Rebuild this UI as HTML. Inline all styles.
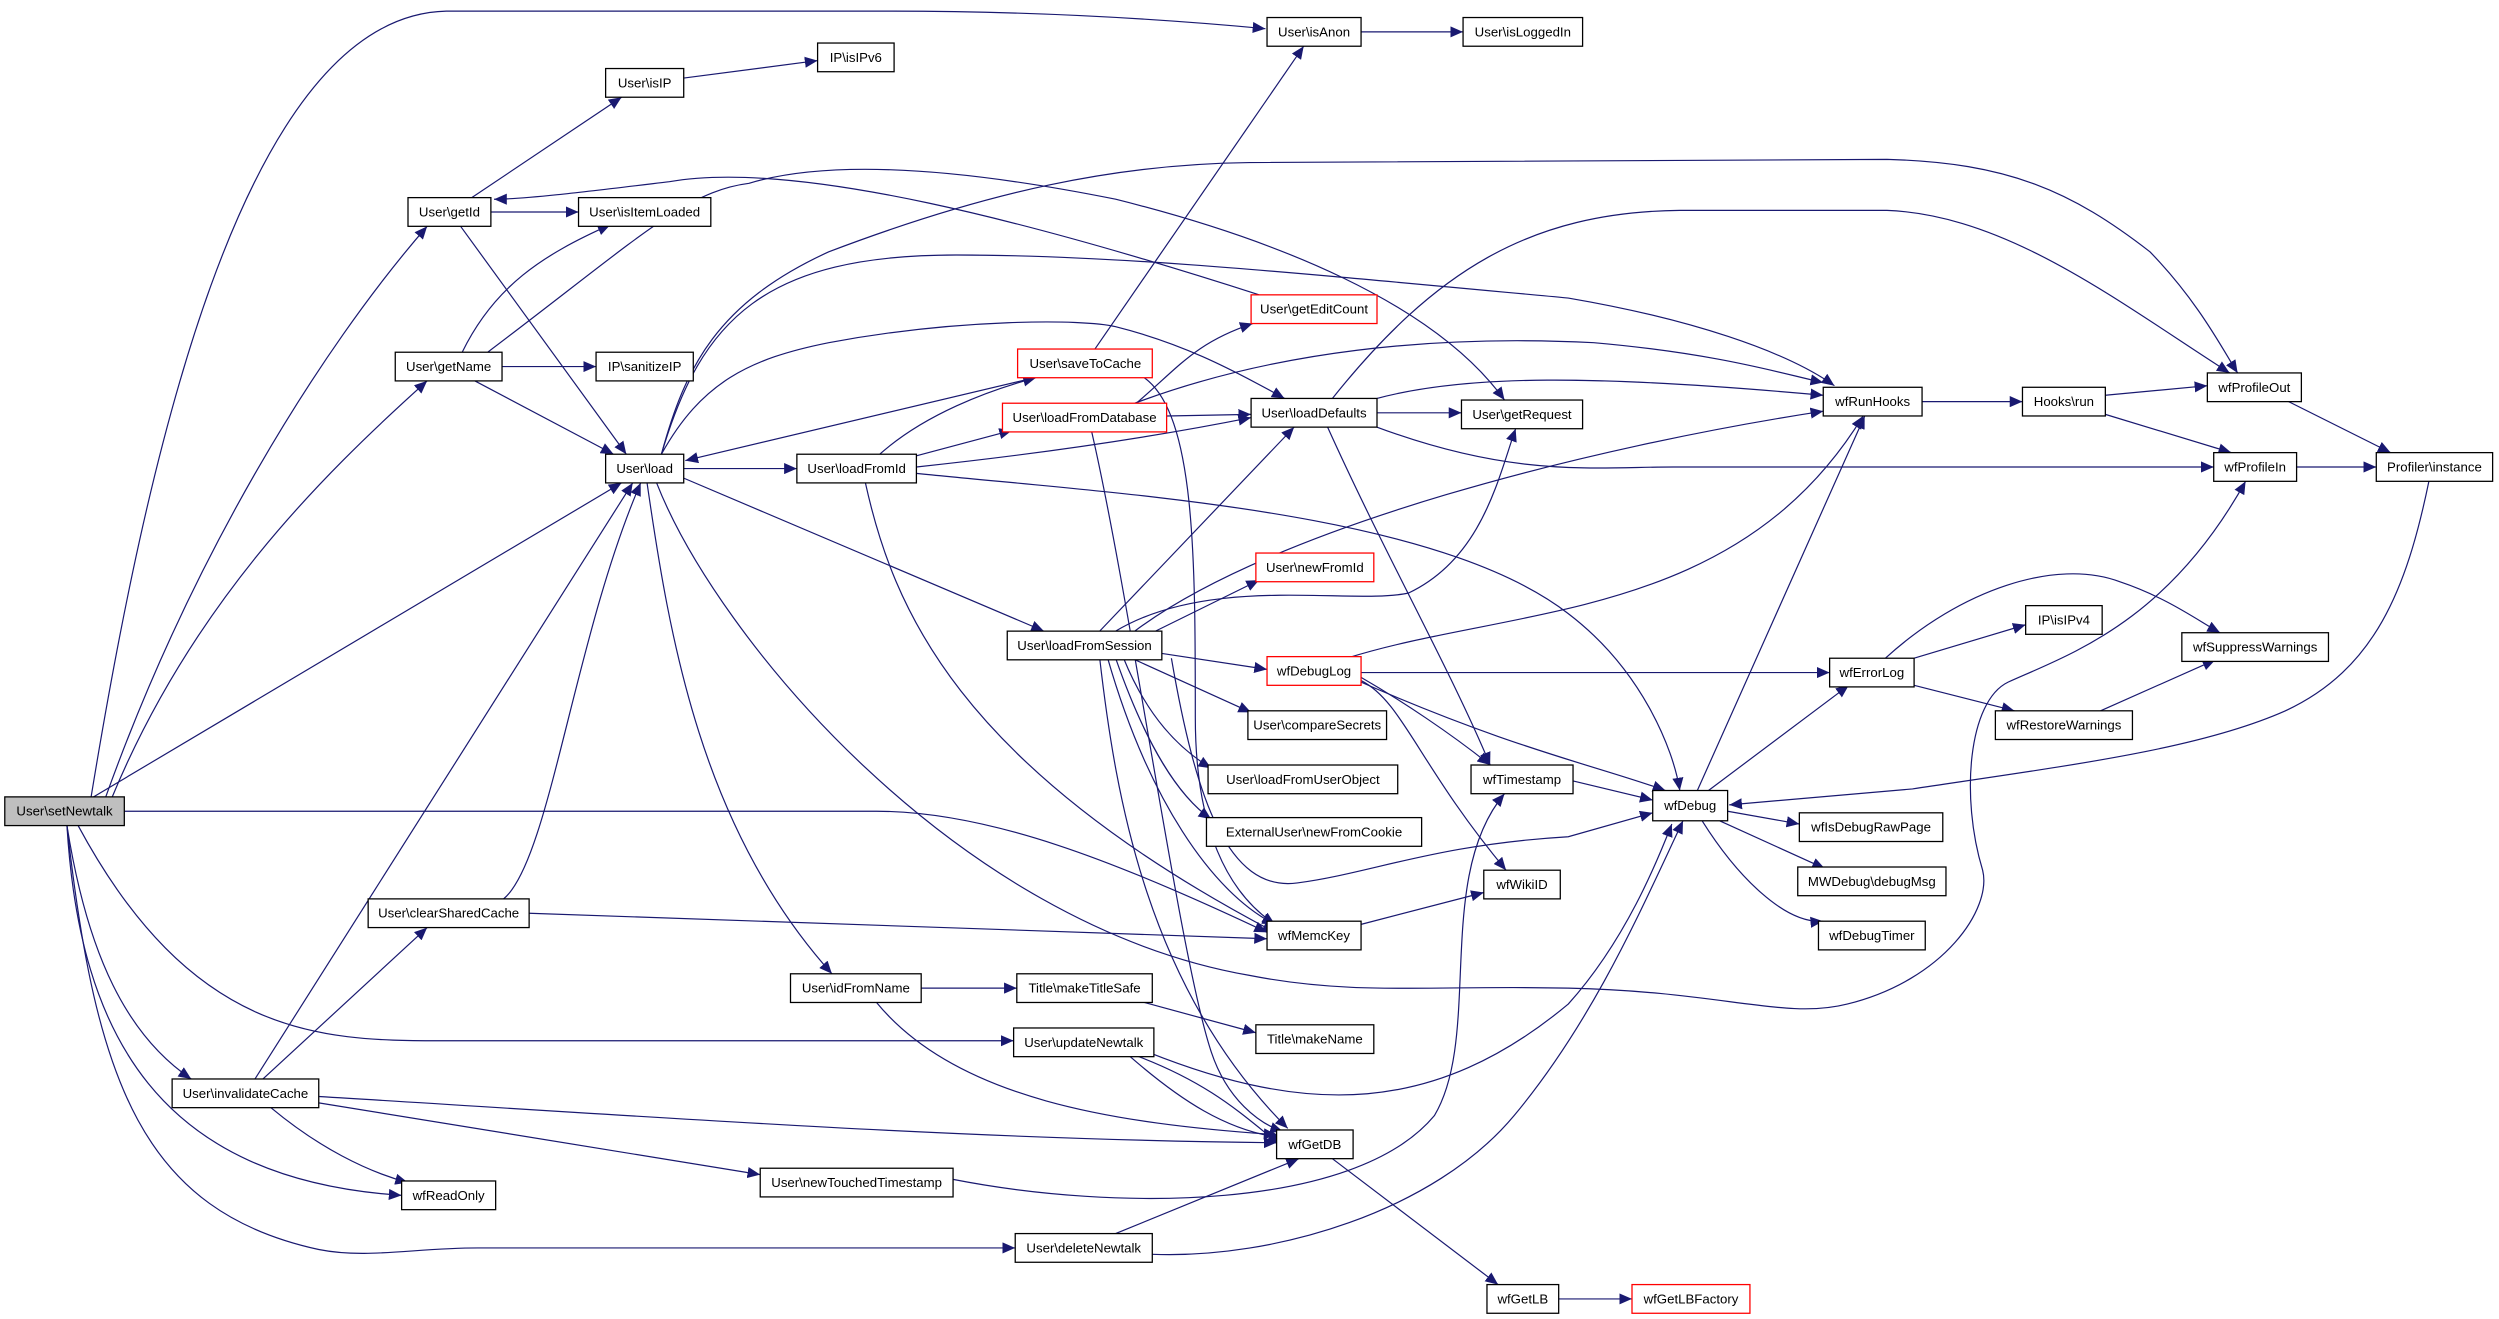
<!DOCTYPE html>
<html><head><meta charset="utf-8"><style>
html,body{margin:0;padding:0;background:#fff}
svg{display:block}
text{font-family:"Liberation Sans",sans-serif;font-size:8.3px;text-anchor:middle;dominant-baseline:central;fill:#000}
.e{fill:none;stroke:#191970;stroke-width:0.75}
.n{fill:#fff;stroke:#000;stroke-width:0.8}
.r{fill:#fff;stroke:#f00;stroke-width:0.8}
</style></head><body>
<svg width="2499" height="1319" viewBox="0 0 1568 827.6" preserveAspectRatio="none" xmlns="http://www.w3.org/2000/svg">
<defs><marker id="a" markerUnits="userSpaceOnUse" markerWidth="8" markerHeight="7" refX="8" refY="3.5" orient="auto"><path d="M0,0 L8,3.5 L0,7 z" fill="#191970"/></marker></defs>
<g class="e" marker-end="url(#a)">
<path d="M57,501 C90,300 150,10 280,7 L560,7 C650,7 730,12 794,18"/>
<path d="M66,501 C120,350 200,220 268,142"/>
<path d="M70,501 C120,380 200,300 268,239"/>
<path d="M57,501 L390,303"/>
<path d="M78,509 L550,509 C620,509 700,540 795,585"/>
<path d="M49,518 C120,650 200,653 275,653 L636,653"/>
<path d="M42,518 C55,600 80,650 120,677"/>
<path d="M42,518 C50,650 100,740 252,750"/>
<path d="M42,518 C60,680 90,760 200,784 C230,790 260,783 300,783 L637,783"/>
<path d="M316,564 C345,540 360,400 402,303"/>
<path d="M160,677 L397,303"/>
<path d="M165,677 L268,582"/>
<path d="M170,695 C200,720 230,735 256,742"/>
<path d="M200,688 C400,700 600,715 801,717"/>
<path d="M200,692 L477,737"/>
<path d="M332,573 L795,589"/>
<path d="M296,124 L390,61"/>
<path d="M308,133 L363,133"/>
<path d="M289,142 L393,285"/>
<path d="M290,221 C310,180 340,160 383,141"/>
<path d="M315,230 L374,230"/>
<path d="M298,239 L385,285"/>
<path d="M306,221 C400,150 430,120 470,115 C520,100 600,105 700,125 C800,150 900,190 944,251"/>
<path d="M790,185 C650,140 500,100 420,114 C370,120 330,125 310,125"/>
<path d="M429,294 L500,294"/>
<path d="M429,300 L655,396"/>
<path d="M406,303 C420,400 440,520 522,611"/>
<path d="M412,303 C450,400 600,580 784,612 C850,625 900,618 984,620 C1080,622 1120,640 1159,630 C1220,615 1250,570 1244,546 C1230,500 1235,440 1260,428 C1300,410 1360,390 1409,302"/>
<path d="M415,285 C440,200 480,160 600,160 C700,160 800,170 984,187 C1060,200 1120,220 1151,242"/>
<path d="M415,285 C440,240 470,225 520,215 C600,200 680,200 700,205 C740,215 770,230 806,250"/>
<path d="M415,285 C430,230 450,190 520,158 C620,120 700,103 784,102 L1184,100 C1260,102 1300,120 1349,158 C1380,190 1395,220 1404,234"/>
<path d="M645,238 L430,289"/>
<path d="M552,285 C580,260 620,245 650,237"/>
<path d="M687,219 L818,29"/>
<path d="M718,237 C750,260 750,350 750,450 C750,520 770,560 800,580"/>
<path d="M575,286 L635,270"/>
<path d="M575,293 C650,285 720,275 785,262"/>
<path d="M575,297 C700,310 900,320 984,385 C1030,420 1050,470 1054,496"/>
<path d="M543,303 C560,380 600,480 800,585"/>
<path d="M713,253 C740,230 750,215 786,203"/>
<path d="M732,261 L785,260"/>
<path d="M712,253 C800,220 900,210 1000,215 C1080,222 1120,235 1144,240"/>
<path d="M685,271 C710,380 740,600 760,660 C770,690 790,705 805,710"/>
<path d="M864,259 L917,259"/>
<path d="M864,250 C920,235 1000,235 1144,248"/>
<path d="M864,268 C950,300 1000,293 1050,293 L1389,293"/>
<path d="M836,250 C900,170 960,133 1054,132 L1184,132 C1260,135 1330,190 1399,234"/>
<path d="M833,268 C870,350 910,420 935,480"/>
<path d="M1206,252 L1269,252"/>
<path d="M1321,248 L1385,242"/>
<path d="M1321,260 L1400,284"/>
<path d="M1436,252 L1500,284"/>
<path d="M1441,293 L1491,293"/>
<path d="M1524,302 C1510,370 1490,420 1434,446 C1380,470 1300,480 1200,495 L1085,505"/>
<path d="M854,20 L918,20"/>
<path d="M429,49 L513,38"/>
<path d="M725,396 L790,364"/>
<path d="M729,410 L795,420"/>
<path d="M712,396 C800,330 1000,280 1144,258"/>
<path d="M700,396 C760,360 850,380 884,372 C930,350 940,300 951,269"/>
<path d="M690,396 L812,268"/>
<path d="M710,413 L785,447"/>
<path d="M705,413 C720,450 740,470 760,482"/>
<path d="M700,413 C720,470 740,500 760,514"/>
<path d="M695,413 C720,500 760,560 800,580"/>
<path d="M690,413 C700,500 720,620 808,708"/>
<path d="M735,413 C750,500 770,560 814,554 C860,548 900,530 984,525 L1037,510"/>
<path d="M854,422 L1148,422"/>
<path d="M845,413 C950,380 1090,390 1169,261"/>
<path d="M854,425 C880,440 910,460 935,480"/>
<path d="M854,428 C950,470 1000,480 1045,496"/>
<path d="M854,427 C880,440 890,480 945,546"/>
<path d="M987,490 L1037,502"/>
<path d="M854,580 L931,560"/>
<path d="M1065,496 L1170,261"/>
<path d="M1072,496 L1160,430"/>
<path d="M1084,509 L1129,517"/>
<path d="M1079,515 L1145,545"/>
<path d="M1068,515 C1090,550 1120,580 1144,578"/>
<path d="M1201,413 L1271,392"/>
<path d="M1201,430 L1264,446"/>
<path d="M1183,413 C1230,370 1290,350 1330,365 C1360,375 1380,390 1393,397"/>
<path d="M1318,446 L1390,414"/>
<path d="M578,620 L638,620"/>
<path d="M718,629 L788,648"/>
<path d="M550,629 C600,690 700,705 801,712"/>
<path d="M708,662 C740,690 770,710 805,714"/>
<path d="M712,662 C760,680 780,700 803,718"/>
<path d="M720,660 C820,700 900,700 984,630 C1020,590 1040,540 1049,517"/>
<path d="M598,740 C700,760 850,760 900,700 C930,650 900,550 944,498"/>
<path d="M700,774 L815,727"/>
<path d="M723,787 C800,790 900,760 950,700 C1000,640 1030,570 1056,515"/>
<path d="M836,727 L940,806"/>
<path d="M978,815 L1024,815"/>
</g>
<g>
<rect x="3" y="500" width="75" height="18" fill="#bfbfbf" stroke="#000" stroke-width="0.8"/><text x="40.5" y="509">User\setNewtalk</text>
<rect class="n" x="795" y="11" width="59" height="18"/><text x="824.5" y="20">User\isAnon</text>
<rect class="n" x="918" y="11" width="75" height="18"/><text x="955.5" y="20">User\isLoggedIn</text>
<rect class="n" x="513" y="27" width="48" height="18"/><text x="537" y="36">IP\isIPv6</text>
<rect class="n" x="380" y="43" width="49" height="18"/><text x="404.5" y="52">User\isIP</text>
<rect class="n" x="256" y="124" width="52" height="18"/><text x="282" y="133">User\getId</text>
<rect class="n" x="363" y="124" width="83" height="18"/><text x="404.5" y="133">User\isItemLoaded</text>
<rect class="n" x="248" y="221" width="67" height="18"/><text x="281.5" y="230">User\getName</text>
<rect class="n" x="374" y="221" width="61" height="18"/><text x="404.5" y="230">IP\sanitizeIP</text>
<rect class="n" x="380" y="285" width="49" height="18"/><text x="404.5" y="294">User\load</text>
<rect class="n" x="500" y="285" width="75" height="18"/><text x="537.5" y="294">User\loadFromId</text>
<rect class="r" x="638.5" y="219" width="84.5" height="18"/><text x="681" y="228">User\saveToCache</text>
<rect class="r" x="629" y="253" width="103" height="18"/><text x="680.5" y="262">User\loadFromDatabase</text>
<rect class="r" x="785" y="185" width="79" height="18"/><text x="824.5" y="194">User\getEditCount</text>
<rect class="n" x="785" y="250" width="79" height="18"/><text x="824.5" y="259">User\loadDefaults</text>
<rect class="n" x="917" y="251" width="76" height="18"/><text x="955" y="260">User\getRequest</text>
<rect class="n" x="1144" y="243" width="62" height="18"/><text x="1175" y="252">wfRunHooks</text>
<rect class="n" x="1269" y="243" width="52" height="18"/><text x="1295" y="252">Hooks\run</text>
<rect class="n" x="1385" y="234" width="59" height="18"/><text x="1414.5" y="243">wfProfileOut</text>
<rect class="n" x="1389" y="284" width="52" height="18"/><text x="1415" y="293">wfProfileIn</text>
<rect class="n" x="1491" y="284" width="73" height="18"/><text x="1527.5" y="293">Profiler\instance</text>
<rect class="r" x="788" y="347" width="74" height="18"/><text x="825" y="356">User\newFromId</text>
<rect class="n" x="632" y="396" width="97" height="18"/><text x="680.5" y="405">User\loadFromSession</text>
<rect class="r" x="795" y="412" width="59" height="18"/><text x="824.5" y="421">wfDebugLog</text>
<rect class="n" x="1148" y="413" width="53" height="18"/><text x="1174.5" y="422">wfErrorLog</text>
<rect class="n" x="1271" y="380" width="48" height="18"/><text x="1295" y="389">IP\isIPv4</text>
<rect class="n" x="1369" y="397" width="92" height="18"/><text x="1415" y="406">wfSuppressWarnings</text>
<rect class="n" x="1252" y="446" width="86" height="18"/><text x="1295" y="455">wfRestoreWarnings</text>
<rect class="n" x="783" y="446" width="87" height="18"/><text x="826.5" y="455">User\compareSecrets</text>
<rect class="n" x="758" y="480" width="119" height="18"/><text x="817.5" y="489">User\loadFromUserObject</text>
<rect class="n" x="757" y="513" width="135" height="18"/><text x="824.5" y="522">ExternalUser\newFromCookie</text>
<rect class="n" x="923" y="480" width="64" height="18"/><text x="955" y="489">wfTimestamp</text>
<rect class="n" x="1037" y="496" width="47" height="19"/><text x="1060.5" y="505.5">wfDebug</text>
<rect class="n" x="1129" y="510" width="90" height="18"/><text x="1174" y="519">wfIsDebugRawPage</text>
<rect class="n" x="1128" y="544" width="93" height="18"/><text x="1174.5" y="553">MWDebug\debugMsg</text>
<rect class="n" x="1141" y="578" width="67" height="18"/><text x="1174.5" y="587">wfDebugTimer</text>
<rect class="n" x="931" y="546" width="48" height="18"/><text x="955" y="555">wfWikiID</text>
<rect class="n" x="795" y="578" width="59" height="18"/><text x="824.5" y="587">wfMemcKey</text>
<rect class="n" x="231" y="564" width="101" height="18"/><text x="281.5" y="573">User\clearSharedCache</text>
<rect class="n" x="108" y="677" width="92" height="18"/><text x="154" y="686">User\invalidateCache</text>
<rect class="n" x="252" y="741" width="59" height="18"/><text x="281.5" y="750">wfReadOnly</text>
<rect class="n" x="496" y="611" width="82" height="18"/><text x="537" y="620">User\idFromName</text>
<rect class="n" x="638" y="611" width="85" height="18"/><text x="680.5" y="620">Title\makeTitleSafe</text>
<rect class="n" x="788" y="643" width="74" height="18"/><text x="825" y="652">Title\makeName</text>
<rect class="n" x="636" y="645" width="88" height="18"/><text x="680" y="654">User\updateNewtalk</text>
<rect class="n" x="477" y="733" width="121" height="18"/><text x="537.5" y="742">User\newTouchedTimestamp</text>
<rect class="n" x="801" y="709" width="48" height="18"/><text x="825" y="718">wfGetDB</text>
<rect class="n" x="637" y="774" width="86" height="18"/><text x="680" y="783">User\deleteNewtalk</text>
<rect class="n" x="933" y="806" width="45" height="18"/><text x="955.5" y="815">wfGetLB</text>
<rect class="r" x="1024" y="806" width="74" height="18"/><text x="1061" y="815">wfGetLBFactory</text>
</g>
</svg>
</body></html>
